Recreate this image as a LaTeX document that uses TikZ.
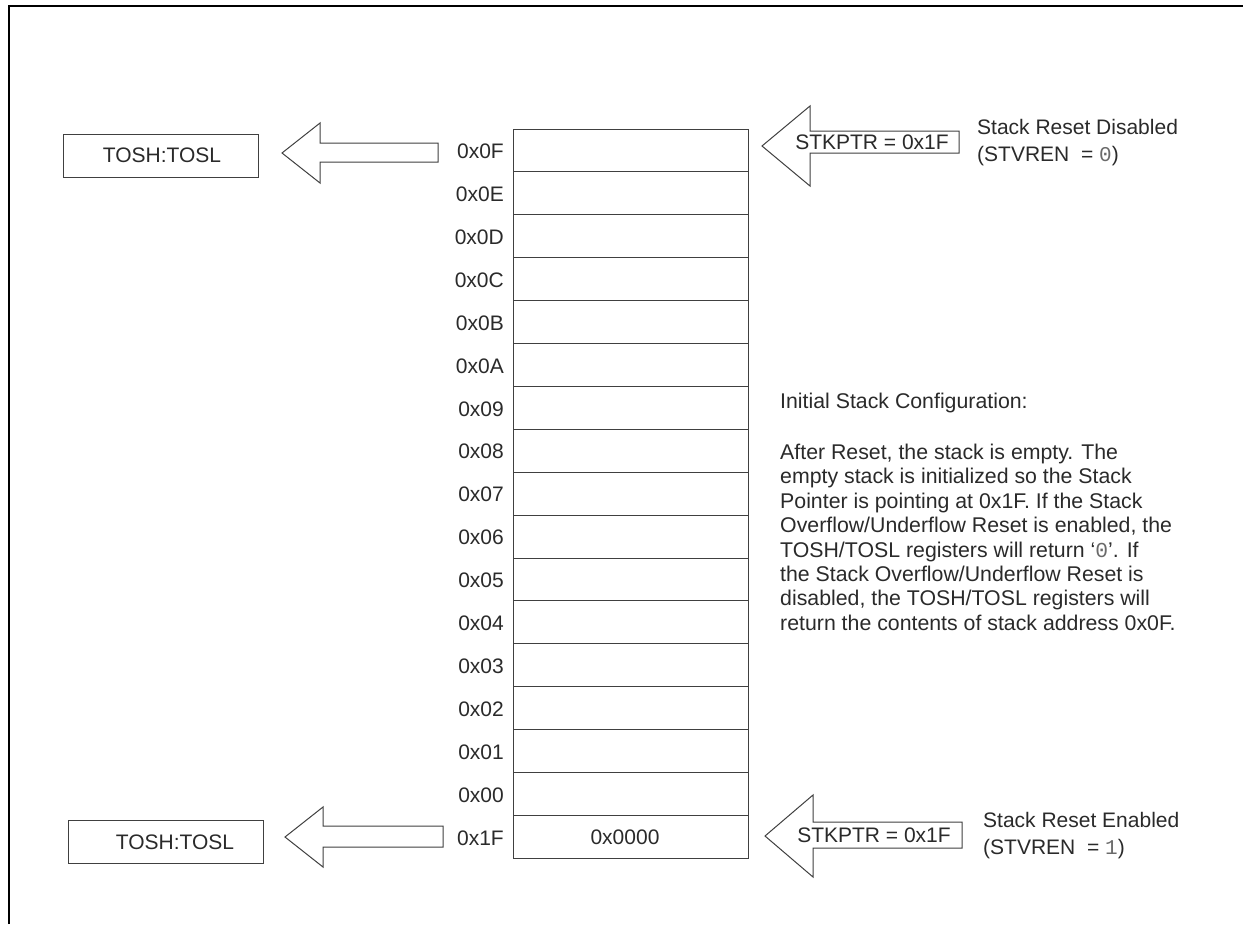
\documentclass[tikz,border=0pt]{standalone}
\usepackage{fontspec}
\setmainfont{Liberation Sans}
\newfontfamily\monof{Liberation Mono}
\definecolor{ln}{HTML}{404040}
\definecolor{tx}{HTML}{2A2A2A}
\definecolor{mono}{HTML}{6A6A6A}
\tikzset{
  txt/.style={font=\fontsize{21}{25}\selectfont, text=tx, inner sep=0pt},
  ptxt/.style={font=\fontsize{21.3}{25}\selectfont, text=tx, inner sep=0pt},
  cellbox/.style={draw=ln, line width=1pt, minimum width=235pt, minimum height=42.9pt, inner sep=0pt},
  regbox/.style={draw=ln, line width=1pt, minimum width=195pt, minimum height=43pt, inner sep=0pt},
  blockarrow/.style={draw=ln, line width=1pt, fill=white},
}
\begin{document}
\begin{tikzpicture}[x=1pt,y=-1pt]
\useasboundingbox (0,0) rectangle (1253,924);
% frame
\draw[black, line width=2.5pt] (9,924) -- (9,6) -- (1243,6);
% stack
\foreach \lab [count=\i from 0] in {0x0F,0x0E,0x0D,0x0C,0x0B,0x0A,0x09,0x08,0x07,0x06,0x05,0x04,0x03,0x02,0x01,0x00,0x1F}{
  \node[cellbox] (cell\i) at (630.5,{129+42.9*(\i+0.5)}) {};
  \node[txt, anchor=east] (lab\i) at (504,{130+42.9*(\i+0.5)}) {\lab};
}
\node[txt] (bottomval) at (625,837) {0x0000};
% left register boxes
\node[regbox] (tostop) at (160.5,155.5) {};
\node[txt] at (162,155.5) {TOSH:TOSL};
\node[regbox] (tosbot) at (165.5,842) {};
\node[txt] at (175,842) {TOSH:TOSL};
% left arrows
\draw[blockarrow] (282,153) -- (320,123) -- (320,143) -- (438,143) -- (438,162) -- (320,162) -- (320,183) -- cycle;
\draw[blockarrow] (285,837) -- (323,807) -- (323,826) -- (443,826) -- (443,847) -- (323,847) -- (323,867) -- cycle;
% right arrows
\draw[blockarrow] (762,146) -- (810,106) -- (810,131) -- (959,131) -- (959,153) -- (810,153) -- (810,186) -- cycle;
\node[txt] (sp1) at (872,142) {STKPTR = 0x1F};
\draw[blockarrow] (765,836) -- (813,795) -- (813,822) -- (962,822) -- (962,848) -- (813,848) -- (813,877) -- cycle;
\node[txt] (sp2) at (874,835.5) {STKPTR = 0x1F};
% right notes
\node[txt, anchor=base west] (n1a) at (977,134) {Stack Reset Disabled};
\node[txt, anchor=base west] (n1b) at (977,161) {(STVREN\ \ = {\monof\color{mono}0})};
\node[txt, anchor=base west] (n2a) at (983,827) {Stack Reset Enabled};
\node[txt, anchor=base west] (n2b) at (983,854) {(STVREN\ \ = {\monof\color{mono}1})};
% paragraph
\node[ptxt, anchor=base west] (p0) at (780,408) {Initial Stack Configuration:};
\foreach \t [count=\k from 0] in {
  {After Reset, the stack is empty. The},
  {empty stack is initialized so the Stack},
  {Pointer is pointing at 0x1F. If the Stack},
  {Overflow/Underflow Reset is enabled, the},
  {TOSH/TOSL registers will return ‘{\monof\color{mono}0}’. If},
  {the Stack Overflow/Underflow Reset is},
  {disabled, the TOSH/TOSL registers will},
  {return the contents of stack address 0x0F.}}{
  \node[ptxt, anchor=base west] (p\k x) at (780,{459.5+24.4*\k}) {\t};
}
\end{tikzpicture}
\end{document}
